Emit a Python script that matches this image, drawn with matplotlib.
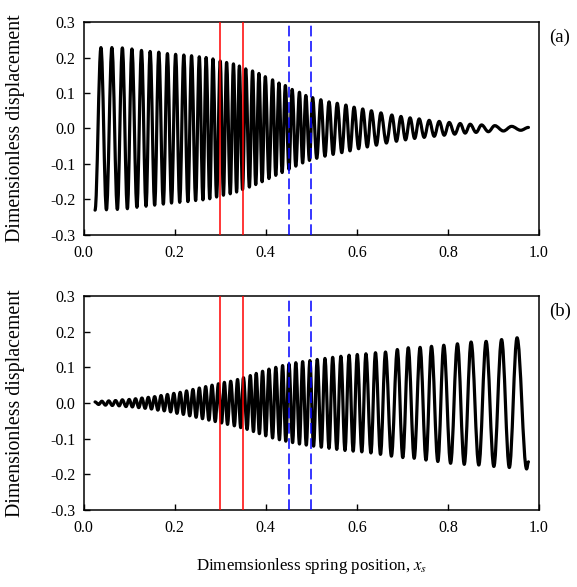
import numpy as np
import matplotlib
matplotlib.use("Agg")
import matplotlib.pyplot as plt
from matplotlib.path import Path
from matplotlib.patches import PathPatch

plt.rcParams["font.family"] = ["Liberation Serif", "DejaVu Serif"]
plt.rcParams["mathtext.fontset"] = "stix"

# ---- panel (a): extrema ----
a_start = (0.025, -0.230)
a_end = (0.977, 0.003)
a_peak_x = [0.038, 0.062, 0.085, 0.106, 0.127, 0.146, 0.165, 0.184, 0.202, 0.220,
            0.237, 0.254, 0.269, 0.284, 0.300, 0.314, 0.329, 0.342, 0.356, 0.371,
            0.385, 0.399, 0.415, 0.429, 0.443, 0.458, 0.474, 0.488, 0.503, 0.521,
            0.539, 0.557, 0.576, 0.594, 0.613, 0.632, 0.653, 0.677, 0.697, 0.717,
            0.737, 0.759, 0.781, 0.803, 0.827, 0.849, 0.874, 0.903, 0.940]
a_peak_y = [0.228, 0.228, 0.227, 0.224, 0.220, 0.217, 0.215, 0.211, 0.209, 0.207,
            0.205, 0.202, 0.200, 0.196, 0.190, 0.186, 0.182, 0.176, 0.168, 0.162,
            0.155, 0.146, 0.137, 0.128, 0.121, 0.110, 0.102, 0.093, 0.087, 0.081,
            0.075, 0.071, 0.066, 0.060, 0.055, 0.050, 0.044, 0.038, 0.034, 0.030,
            0.027, 0.023, 0.020, 0.017, 0.014, 0.012, 0.010, 0.008, 0.006]
a_trough_x = [0.050, 0.074, 0.096, 0.117, 0.137, 0.156, 0.175, 0.193, 0.211,
              0.229, 0.246, 0.262, 0.277, 0.292, 0.307, 0.322, 0.336, 0.349, 0.364,
              0.378, 0.392, 0.407, 0.422, 0.436, 0.451, 0.466, 0.481, 0.496, 0.512,
              0.530, 0.548, 0.567, 0.585, 0.604, 0.623, 0.643, 0.665, 0.687, 0.707,
              0.727, 0.748, 0.770, 0.792, 0.815, 0.838, 0.862, 0.889, 0.922, 0.960]
a_trough_y = [-0.229, -0.228, -0.226, -0.222, -0.219, -0.216, -0.213, -0.210,
              -0.208, -0.206, -0.203, -0.201, -0.198, -0.193, -0.188, -0.184, -0.179,
              -0.172, -0.165, -0.158, -0.150, -0.141, -0.132, -0.124, -0.115, -0.106,
              -0.097, -0.090, -0.084, -0.078, -0.073, -0.068, -0.063, -0.057, -0.052,
              -0.047, -0.041, -0.036, -0.032, -0.028, -0.025, -0.022, -0.019, -0.016,
              -0.013, -0.011, -0.009, -0.007, -0.005]

# ---- panel (b) ----
b_start = (0.025, 0.003)
b_end = (0.977, -0.165)
b_peak_x = [0.040, 0.055, 0.070, 0.085, 0.100, 0.114, 0.128, 0.142, 0.156, 0.170,
            0.184, 0.198, 0.212, 0.226, 0.240, 0.254, 0.268, 0.282, 0.296, 0.309,
            0.323, 0.338, 0.351, 0.366, 0.379, 0.393, 0.407, 0.422, 0.437, 0.451,
            0.466, 0.481, 0.497, 0.513, 0.530, 0.547, 0.565, 0.583, 0.601, 0.620,
            0.641, 0.663, 0.689, 0.713, 0.739, 0.764, 0.791, 0.821, 0.851, 0.884,
            0.918, 0.952]
b_peak_y = [0.005, 0.006, 0.007, 0.009, 0.010, 0.012, 0.014, 0.016, 0.018, 0.021,
            0.024, 0.027, 0.030, 0.034, 0.038, 0.042, 0.046, 0.050, 0.054, 0.058,
            0.061, 0.066, 0.071, 0.077, 0.083, 0.089, 0.095, 0.100, 0.105, 0.109,
            0.113, 0.116, 0.119, 0.122, 0.125, 0.128, 0.131, 0.134, 0.136, 0.138,
            0.141, 0.143, 0.150, 0.155, 0.156, 0.159, 0.162, 0.166, 0.171, 0.173,
            0.178, 0.183]
b_trough_x = [0.033, 0.048, 0.063, 0.078, 0.093, 0.107, 0.121, 0.135, 0.149, 0.163,
              0.177, 0.191, 0.205, 0.219, 0.233, 0.247, 0.261, 0.275, 0.289, 0.303,
              0.316, 0.331, 0.345, 0.359, 0.373, 0.386, 0.400, 0.415, 0.430, 0.444,
              0.459, 0.474, 0.489, 0.505, 0.522, 0.539, 0.556, 0.574, 0.592, 0.611,
              0.631, 0.652, 0.676, 0.701, 0.726, 0.752, 0.778, 0.806, 0.836, 0.868,
              0.901, 0.935, 0.973]
b_trough_y = [-0.004, -0.006, -0.007, -0.008, -0.010, -0.011, -0.013, -0.015, -0.017,
              -0.020, -0.022, -0.025, -0.029, -0.032, -0.036, -0.040, -0.044, -0.048,
              -0.052, -0.056, -0.060, -0.064, -0.069, -0.074, -0.080, -0.086, -0.092,
              -0.098, -0.103, -0.107, -0.111, -0.115, -0.118, -0.121, -0.124, -0.127,
              -0.130, -0.133, -0.135, -0.137, -0.140, -0.144, -0.149, -0.153, -0.155,
              -0.160, -0.164, -0.169, -0.172, -0.174, -0.178, -0.181, -0.185]

red_lines = [0.30, 0.35]
blue_lines = [0.45, 0.50]
panel_labels = ["(a)", "(b)"]
xticks = [0.0, 0.2, 0.4, 0.6, 0.8, 1.0]
yticks = [-0.3, -0.2, -0.1, 0.0, 0.1, 0.2, 0.3]


def merge(start, end, px, py, tx, ty):
    pts = [start] + list(zip(px, py)) + list(zip(tx, ty)) + [end]
    pts.sort(key=lambda p: p[0])
    return np.array(pts)


def wave_path(pts, k=0.3642):
    # smooth half-cycles between consecutive extrema (flat tangents at each extremum)
    verts = [tuple(pts[0])]
    codes = [Path.MOVETO]
    for (x0, y0), (x1, y1) in zip(pts[:-1], pts[1:]):
        dx = x1 - x0
        verts += [(x0 + k * dx, y0), (x1 - k * dx, y1), (x1, y1)]
        codes += [Path.CURVE4] * 3
    return Path(verts, codes)


waves = [
    merge(a_start, a_end, a_peak_x, a_peak_y, a_trough_x, a_trough_y),
    merge(b_start, b_end, b_peak_x, b_peak_y, b_trough_x, b_trough_y),
]

fig = plt.figure(figsize=(5.77, 5.87), dpi=100)
axes = [fig.add_axes([0.145, 0.5997, 0.789, 0.3628]),
        fig.add_axes([0.145, 0.1312, 0.789, 0.3645])]

for ax, pts, lab in zip(axes, waves, panel_labels):
    ax.add_patch(PathPatch(wave_path(pts), fill=False, edgecolor="black",
                           linewidth=2.3, capstyle="round", joinstyle="round", zorder=2))
    for xv in red_lines:
        ax.axvline(xv, color="#ff0000", linewidth=1.1, zorder=3)
    for xv in blue_lines:
        ax.axvline(xv, color="#0000ff", linewidth=1.1, linestyle=(0, (7, 3)), zorder=3)

    ax.set_xlim(0.0, 1.0)
    ax.set_ylim(-0.3, 0.3)
    ax.set_xticks(xticks)
    ax.set_xticklabels([f"{v:.1f}" for v in xticks])
    ax.set_yticks(yticks)
    ax.set_yticklabels([f"{v:.1f}" for v in yticks])
    ax.tick_params(direction="in", length=4, width=1, labelsize=11.5)
    ax.tick_params(axis="x", pad=7)
    ax.tick_params(axis="y", pad=6)
    for s in ax.spines.values():
        s.set_linewidth(1.1)
    ax.set_ylabel("Dimensionless displacement", fontsize=14.3)
    ax.yaxis.set_label_coords(-0.128, 0.5)
    ax.text(1.022, 0.93, lab, transform=ax.transAxes, fontsize=13.5,
            ha="left", va="center")

axes[1].set_xlabel("Dimemsionless spring position, $x_s$", fontsize=12.2)
axes[1].xaxis.set_label_coords(0.5, -0.215)

fig.savefig("out.png", dpi=100)
